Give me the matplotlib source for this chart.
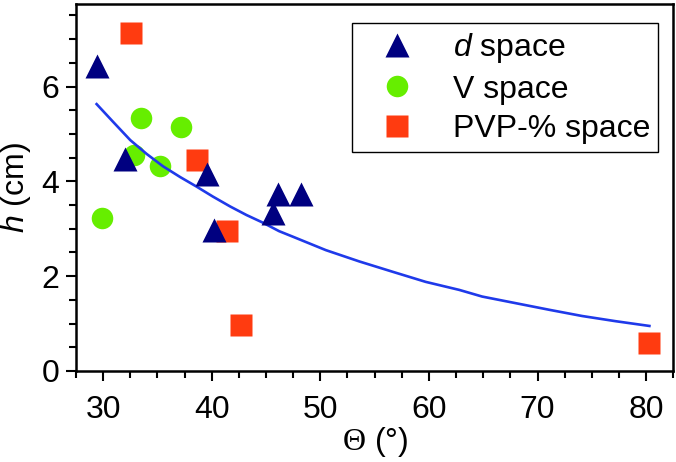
import matplotlib

matplotlib.use("Agg")
import matplotlib.pyplot as plt
from matplotlib.ticker import MultipleLocator

# values
d_theta = [29.4, 32.0, 39.6, 40.2, 45.6, 46.1, 48.2]
d_h = [6.43, 4.47, 4.15, 2.97, 3.33, 3.73, 3.73]

v_theta = [29.85, 33.5, 37.2, 32.8, 35.2]
v_h = [3.22, 5.33, 5.15, 4.56, 4.33]

pvp_theta = [32.55, 38.65, 41.4, 42.7, 80.3]
pvp_h = [7.12, 4.45, 2.95, 0.96, 0.60]

# fitted curve
fit_theta = [29.4, 30.9, 32.5, 34.0, 35.5, 37.1, 38.6, 40.1, 41.7, 43.2, 44.7,
             46.2, 47.5, 50.5, 53.6, 56.7, 59.7, 62.8, 64.9, 68.0, 71.1, 74.1,
             77.2, 80.3]
fit_h = [5.63, 5.26, 4.87, 4.58, 4.32, 4.09, 3.89, 3.68, 3.47, 3.29, 3.13,
         2.95, 2.83, 2.55, 2.31, 2.09, 1.88, 1.71, 1.57, 1.43, 1.29, 1.16,
         1.05, 0.95]

plt.rcParams.update({
    "font.family": ["Liberation Sans", "DejaVu Sans"],
    "font.size": 23,
    "mathtext.fontset": "custom",
    "mathtext.rm": "Liberation Serif",
    "mathtext.it": "Liberation Sans:italic",
    "mathtext.sf": "Liberation Sans",
})

NAVY = "#000080"
GREEN = "#66EE00"
ORANGE = "#FF3B10"
BLUE = "#1F3AEA"

fig = plt.figure(figsize=(6.76, 4.62), dpi=100)
ax = fig.add_axes([0.1124, 0.197, 0.8836, 0.7952])

ax.plot(pvp_theta, pvp_h, ls="none", marker="s", ms=16.5, color=ORANGE,
        mec="none", zorder=2, label="PVP-% space")
ax.plot(v_theta, v_h, ls="none", marker="o", ms=15.5, color=GREEN,
        mec="none", zorder=3, label="V space")
ax.plot(fit_theta, fit_h, color=BLUE, lw=1.9, zorder=4)
ax.plot(d_theta, d_h, ls="none", marker="^", ms=17.5, color=NAVY,
        mec="none", zorder=5, label="$d$ space")

ax.set_xlim(27.5, 82.5)
ax.set_ylim(0, 7.75)
ax.xaxis.set_major_locator(MultipleLocator(10))
ax.xaxis.set_minor_locator(MultipleLocator(2.5))
ax.yaxis.set_major_locator(MultipleLocator(2))
ax.yaxis.set_minor_locator(MultipleLocator(0.5))
ax.tick_params(which="both", direction="out", width=1.5, top=False, right=False)
ax.tick_params(which="major", length=7)
ax.tick_params(which="minor", length=5)
ax.tick_params(axis="x", which="major", pad=10)
ax.tick_params(axis="y", which="major", pad=5)
for s in ax.spines.values():
    s.set_linewidth(1.8)

ax.set_xlabel(r"$\Theta$ (°)", labelpad=0)
ax.set_ylabel("$h$ (cm)")
ax.yaxis.set_label_coords(-0.072, 0.5)

h, l = ax.get_legend_handles_labels()
order = [2, 1, 0]
leg = ax.legend([h[i] for i in order], [l[i] for i in order],
                loc="upper right", bbox_to_anchor=(0.975, 0.947),
                borderaxespad=0, borderpad=0.25, handlelength=2.3,
                handletextpad=0.6, labelspacing=0.3, fancybox=False,
                frameon=True, edgecolor="black", framealpha=1)
leg.get_frame().set_linewidth(1.0)

fig.savefig("out.png", dpi=100)
